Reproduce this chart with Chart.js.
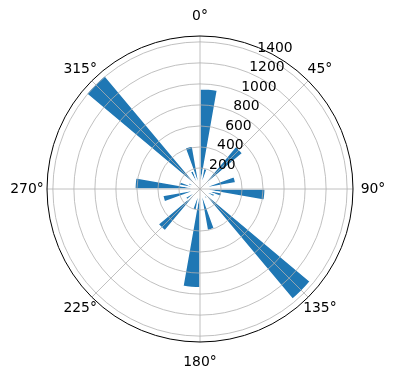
<!DOCTYPE html>
<html><head><meta charset="utf-8">
<script src="https://cdn.jsdelivr.net/npm/chart.js@4.4.0/dist/chart.umd.min.js"></script>
<style>html,body{margin:0;padding:0;background:#fff;}canvas{display:block;}</style>
</head><body>
<canvas id="c" width="396" height="380"></canvas>
<script>
const directionBins = ['0°','10°','20°','30°','40°','50°','60°','70°','80°','90°','100°','110°','120°','130°','140°','150°','160°','170°','180°','190°','200°','210°','220°','230°','240°','250°','260°','270°','280°','290°','300°','310°','320°','330°','340°','350°'];
const frequencies = [955,200,90,70,530,110,80,345,60,620,210,150,80,1370,110,60,400,90,940,205,100,60,520,160,70,360,90,620,200,120,70,1410,80,185,415,90];
const radialTicks = [200,400,600,800,1000,1200,1400];
const compassLabels = ['0°','45°','90°','135°','180°','225°','270°','315°'];
const compassAngles = [0,45,90,135,180,225,270,315];
const rMax = 1456;

const polarFrame = {
  id: 'polarFrame',
  afterDatasetsDraw(chart) {
    const s = chart.scales.r;
    const ctx = chart.ctx;
    const step = 360 / directionBins.length;
    ctx.save();
    ctx.strokeStyle = '#b0b0b0';
    ctx.lineWidth = 0.8;
    radialTicks.forEach(v => {
      const d = s.getDistanceFromCenterForValue(v);
      ctx.beginPath();
      ctx.arc(s.xCenter, s.yCenter, d, 0, Math.PI * 2);
      ctx.stroke();
    });
    compassAngles.forEach(a => {
      const p = s.getPointPosition(a / step, s.drawingArea);
      ctx.beginPath();
      ctx.moveTo(s.xCenter, s.yCenter);
      ctx.lineTo(p.x, p.y);
      ctx.stroke();
    });
    ctx.strokeStyle = '#000';
    ctx.lineWidth = 1;
    ctx.beginPath();
    ctx.arc(s.xCenter, s.yCenter, s.drawingArea, 0, Math.PI * 2);
    ctx.stroke();

    ctx.fillStyle = '#000';
    ctx.font = '13.9px "DejaVu Sans"';
    ctx.textAlign = 'left';
    ctx.textBaseline = 'alphabetic';
    radialTicks.forEach(v => {
      const p = s.getPointPosition(22.5 / step, s.getDistanceFromCenterForValue(v));
      ctx.fillText(String(v), p.x + 1, p.y - 1);
    });
    ctx.textAlign = 'center';
    ctx.textBaseline = 'middle';
    compassAngles.forEach((a, i) => {
      const rad = a * Math.PI / 180;
      const dist = s.drawingArea + 20 - 3.5 * Math.abs(Math.sin(2 * rad));
      const p = s.getPointPosition(a / step, dist);
      ctx.fillText(compassLabels[i], p.x, p.y);
    });
    ctx.restore();
  }
};

new Chart(document.getElementById('c'), {
  type: 'polarArea',
  data: {
    labels: directionBins,
    datasets: [{
      data: frequencies,
      backgroundColor: '#1f77b4',
      borderColor: '#ffffff',
      borderWidth: 1.5
    }]
  },
  options: {
    responsive: false,
    animation: false,
    devicePixelRatio: 1,
    layout: { padding: { left: 47, right: 43, top: 36, bottom: 38 } },
    plugins: { legend: { display: false }, tooltip: { enabled: false } },
    scales: {
      r: {
        min: 0,
        max: rMax,
        startAngle: 0,
        ticks: { display: false, stepSize: 200 },
        grid: { display: false },
        angleLines: { display: false },
        pointLabels: { display: false }
      }
    }
  },
  plugins: [polarFrame]
});
</script>
</body></html>
